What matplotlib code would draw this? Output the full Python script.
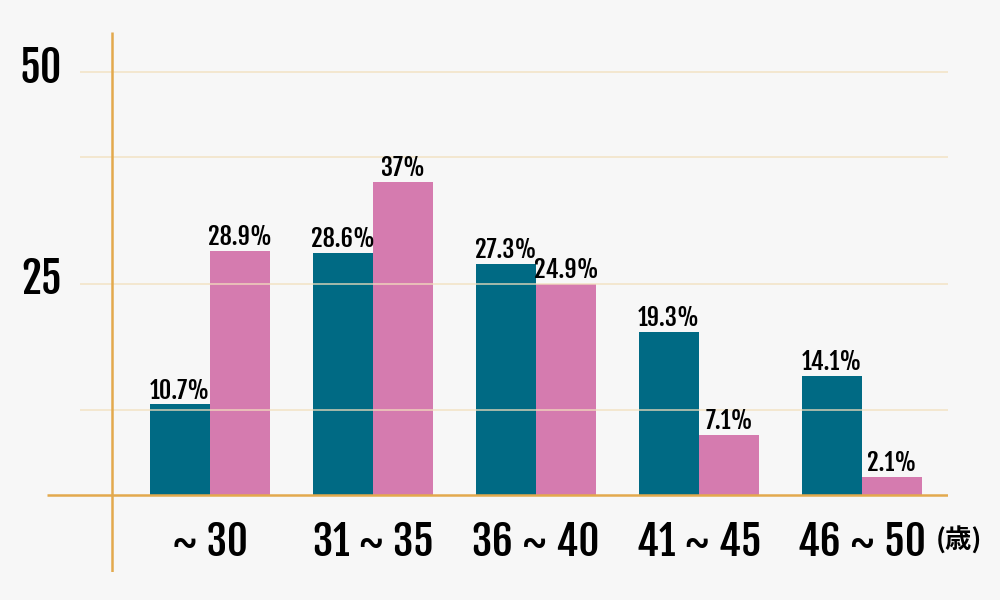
import matplotlib
matplotlib.use('Agg')
import matplotlib.pyplot as plt
import numpy as np

# Age groups and shares (%)
groups = ['~ 30', '31 ~ 35', '36 ~ 40', '41 ~ 45', '46 ~ 50']
teal_vals = [10.7, 28.6, 27.3, 19.3, 14.1]
pink_vals = [28.9, 37, 24.9, 7.1, 2.1]
teal_labels = ['10.7%', '28.6%', '27.3%', '19.3%', '14.1%']
pink_labels = ['28.9%', '37%', '24.9%', '7.1%', '2.1%']
y_ticks = [25, 50]
grid_lines = [10, 25, 40, 50]
unit_label = '(歳)'

BG = '#f7f7f7'
TEAL = '#006a84'
PINK = '#d57baf'
AXIS = '#e3a94d'
GRID = '#f2dfbd'
FONT = ['Fjalla One', 'DejaVu Sans']
PX = 8.46  # pixels per percentage point

fig = plt.figure(figsize=(10, 6), dpi=100, facecolor=BG)
ax = fig.add_axes([0.047, 1 - 572 / 600, 0.901, (572 - 32) / 600])
ax.set_facecolor(BG)
ax.set_xlim(-1.0, 4.528)
ax.set_ylim(-(572 - 495) / PX, (495 - 32) / PX)
ax.axis('off')

x = np.arange(len(groups))
w = 60 / 163
ax.bar(x - w / 2, teal_vals, width=w, color=TEAL, zorder=2)
ax.bar(x + w / 2, pink_vals, width=w, color=PINK, zorder=2)

# grid lines drawn over the bars
ax.hlines(grid_lines, -0.798, 4.528, colors=GRID, linewidth=1.2, alpha=0.8, zorder=3)
ax.hlines(0, -1.0, 4.528, colors=AXIS, linewidth=1.8, zorder=4)
ax.vlines(-0.601, ax.get_ylim()[0], ax.get_ylim()[1], colors=AXIS, linewidth=1.8, zorder=4)

for yt in y_ticks:
    ax.text(-0.908, yt - 1.3, str(yt), ha='right', va='baseline', fontsize=30,
            family=FONT)

for i in range(len(groups)):
    ax.text(x[i] - w / 2, teal_vals[i] + 0.7, teal_labels[i], ha='center', va='baseline',
            fontsize=17.5, family=FONT, zorder=5)
    ax.text(x[i] + w / 2, pink_vals[i] + 0.7, pink_labels[i], ha='center', va='baseline',
            fontsize=17.5, family=FONT, zorder=5)
    ax.text(x[i], -(556 - 495) / PX, groups[i], ha='center', va='baseline', fontsize=29.5,
            family=FONT)

ax.text(4.595, -(541 - 495) / PX, unit_label, ha='center', va='center', fontsize=19,
        fontweight='bold', family=['Noto Sans CJK JP', 'DejaVu Sans'])

fig.savefig('out.png', dpi=100, facecolor=BG)
